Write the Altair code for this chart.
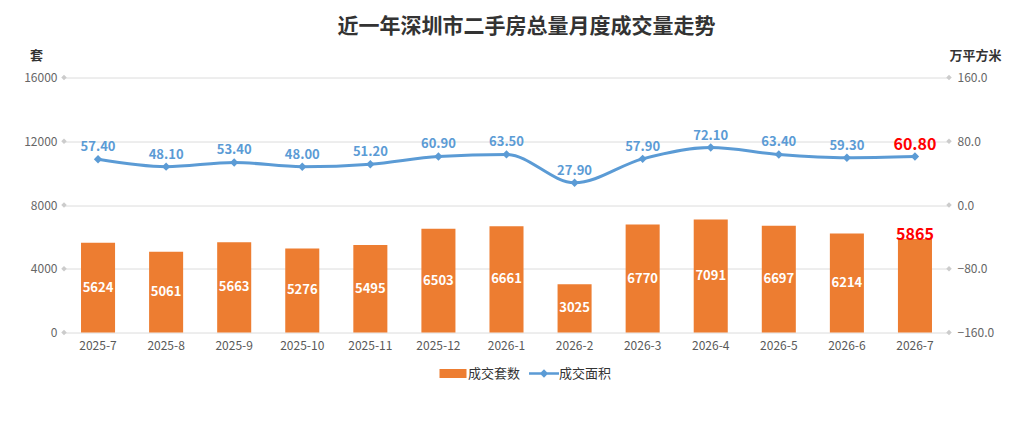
import altair as alt
import pandas as pd

months = ["2025-7", "2025-8", "2025-9", "2025-10", "2025-11", "2025-12", "2026-1",
          "2026-2", "2026-3", "2026-4", "2026-5", "2026-6", "2026-7"]
counts = [5624, 5061, 5663, 5276, 5495, 6503, 6661, 3025, 6770, 7091, 6697, 6214, 5865]
areas = [57.4, 48.1, 53.4, 48.0, 51.2, 60.9, 63.5, 27.9, 57.9, 72.1, 63.4, 59.3, 60.8]
left_ticks = [0, 4000, 8000, 12000, 16000]
right_ticks = [-160, -80, 0, 80, 160]
series = ["成交套数", "成交面积"]

W, H = 885, 255
ORANGE = "#ed7d31"
BLUE = "#5b9bd5"
FONT = "Noto Sans CJK SC"

df = pd.DataFrame({"month": months, "count": counts, "area": areas})
df["last"] = [m == months[-1] for m in months]
lt = pd.DataFrame({"tick": left_ticks})
rt = pd.DataFrame({"tick": right_ticks})
lg = pd.DataFrame({"series": series})

xenc = alt.X("month:N", sort=months,
             scale=alt.Scale(domain=months, paddingInner=0.5, paddingOuter=0.25),
             axis=alt.Axis(title=None, labelAngle=0, domain=False, ticks=False,
                           labelPadding=8, labelColor="#595959", labelFontSize=12, grid=False))

left_axis = alt.Axis(values=left_ticks, format="d", title="套", titleAngle=0, titleX=-28,
                     titleY=-22, titleAlign="center", titleBaseline="middle", titleFontSize=13,
                     titleFontWeight="bold", titleColor="#333333", labelColor="#666666",
                     labelFontSize=12, labelPadding=7, ticks=False, domain=False,
                     grid=True, gridColor="#dcdcdc", orient="left")
right_axis = alt.Axis(values=right_ticks, format=".1f", title="万平方米", titleAngle=0,
                      titleX=26, titleY=-22, titleAlign="center", titleBaseline="middle",
                      titleFontSize=13, titleFontWeight="bold", titleColor="#333333",
                      labelColor="#666666", labelFontSize=12, labelPadding=8, ticks=False,
                      domain=False, grid=False, orient="right")
lscale = alt.Scale(domain=[0, 16000])
rscale = alt.Scale(domain=[-160, 160])

base = alt.Chart(df)

bars = base.mark_bar(color=ORANGE).encode(
    x=xenc, y=alt.Y("count:Q", scale=lscale, axis=left_axis))
bar_text = base.transform_filter("!datum.last").transform_calculate(
    half="datum.count / 2").mark_text(
    color="white", fontWeight="bold", fontSize=13, baseline="middle").encode(
    x=xenc, y=alt.Y("half:Q", scale=lscale, axis=left_axis), text=alt.Text("count:Q", format="d"))
bar_text_last = base.transform_filter("datum.last").mark_text(
    color="#ff0000", fontWeight="bold", fontSize=16, baseline="alphabetic", dy=1).encode(
    x=xenc, y=alt.Y("count:Q", scale=lscale, axis=left_axis), text=alt.Text("count:Q", format="d"))
left_dia = alt.Chart(lt).mark_point(shape="diamond", filled=True, size=30, color="#cccccc",
                                   opacity=1).encode(
    x=alt.value(0), y=alt.Y("tick:Q", scale=lscale, axis=left_axis))

left_group = alt.layer(bars, bar_text, bar_text_last, left_dia)

line = base.mark_line(interpolate="monotone", color=BLUE, strokeWidth=3).encode(
    x=xenc, y=alt.Y("area:Q", scale=rscale, axis=right_axis))
pts = base.mark_point(shape="diamond", filled=True, size=70, color=BLUE, opacity=1).encode(
    x=xenc, y=alt.Y("area:Q", scale=rscale, axis=right_axis))
line_text = base.transform_filter("!datum.last").mark_text(
    color=BLUE, fontWeight="bold", fontSize=13, baseline="alphabetic", dy=-8).encode(
    x=xenc, y=alt.Y("area:Q", scale=rscale, axis=right_axis),
    text=alt.Text("area:Q", format=".2f"))
line_text_last = base.transform_filter("datum.last").mark_text(
    color="#ff0000", fontWeight="bold", fontSize=16, baseline="alphabetic", dy=-7).encode(
    x=xenc, y=alt.Y("area:Q", scale=rscale, axis=right_axis),
    text=alt.Text("area:Q", format=".2f"))
right_dia = alt.Chart(rt).mark_point(shape="diamond", filled=True, size=30, color="#cccccc",
                                    opacity=1).encode(
    x=alt.value(W), y=alt.Y("tick:Q", scale=rscale, axis=right_axis))

rect_path = "M-1.35,-0.45H1.35V0.45H-1.35Z"
line_path = "M-1.5,-0.13H1.5V0.13H-1.5Z M0,-0.42L0.42,0L0,0.42L-0.42,0Z"
leg = alt.Legend(title=None, orient="none", legendX=379, legendY=286, direction="horizontal",
                 symbolSize=400, symbolStrokeWidth=0, symbolOpacity=1, labelFontSize=13,
                 labelColor="#333333", labelOffset=5, columnPadding=8, labelFont=FONT)
legend_layer = alt.Chart(lg).mark_point(filled=True, opacity=0).encode(
    x=alt.value(0), y=alt.value(0),
    color=alt.Color("series:N", scale=alt.Scale(domain=series, range=[ORANGE, BLUE]), legend=leg),
    shape=alt.Shape("series:N", scale=alt.Scale(domain=series, range=[rect_path, line_path]),
                    legend=leg))

right_group = alt.layer(line, pts, line_text, line_text_last, right_dia, legend_layer)

chart = alt.layer(left_group, right_group).resolve_scale(y="independent").properties(
    width=W, height=H,
    title=alt.TitleParams(text="近一年深圳市二手房总量月度成交量走势", fontSize=21,
                          fontWeight="bold", color="#333333", anchor="middle", dx=20,
                          offset=13, font=FONT),
    padding={"left": 56, "top": 69.5, "right": 55, "bottom": 85},
    autosize=alt.AutoSizeParams(type="none"),
).configure(font=FONT, background="white").configure_view(stroke=None)

chart.save("out.html", embed_options={"renderer": "svg", "actions": False})
